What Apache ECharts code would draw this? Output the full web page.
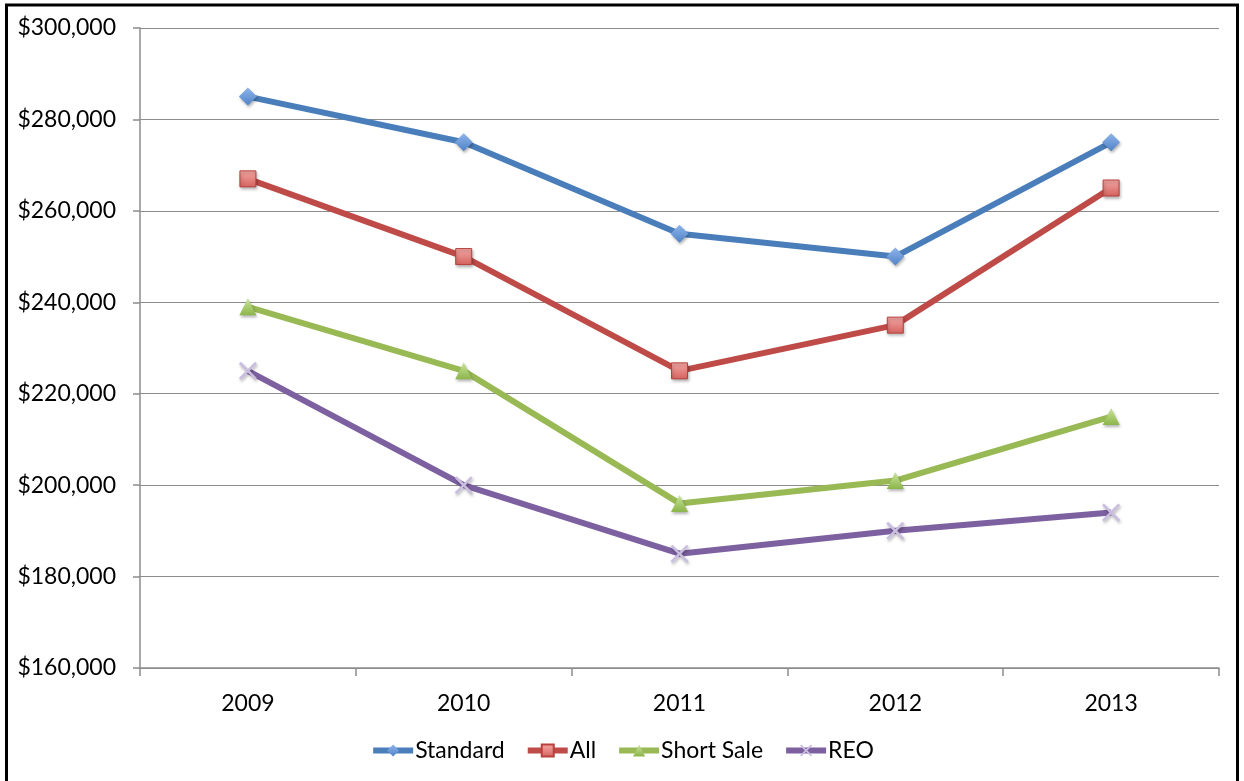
<!DOCTYPE html>
<html>
<head>
<meta charset="utf-8">
<script src="https://cdn.jsdelivr.net/npm/echarts@6/dist/echarts.min.js"></script>
<style>
  html, body { margin: 0; padding: 0; background: #fff; }
  #chart { width: 1244px; height: 781px; }
</style>
</head>
<body>
<div id="chart"></div>
<script>
// Median sale price by year and sale type
const years = ['2009', '2010', '2011', '2012', '2013'];
const standard = [285000, 275000, 255000, 250000, 275000];
const allSales = [267000, 250000, 225000, 235000, 265000];
const shortSale = [239000, 225000, 196000, 201000, 215000];
const reo = [225000, 200000, 185000, 190000, 194000];

const FONT = 'Lato, "Open Sans", sans-serif';
const crossPath = 'path://M0,1L1,0L5,4L9,0L10,1L6,5L10,9L9,10L5,6L1,10L0,9L4,5Z';

function grad(top, bottom) {
  return new echarts.graphic.LinearGradient(0, 0, 0, 1, [
    { offset: 0, color: top }, { offset: 1, color: bottom }
  ]);
}

function makeSeries(name, data, lineColor, symbol, size, fill, border) {
  return {
    name: name,
    type: 'line',
    data: data,
    symbol: symbol,
    symbolSize: size,
    showAllSymbol: true,
    lineStyle: { color: lineColor, width: 6 },
    itemStyle: {
      color: fill,
      borderColor: border,
      borderWidth: border ? 1 : 0,
      shadowColor: 'rgba(0,0,0,0.3)',
      shadowBlur: 3,
      shadowOffsetX: 1,
      shadowOffsetY: 2
    },
    emphasis: { disabled: true },
    z: 2
  };
}

const chart = echarts.init(document.getElementById('chart'), null, { renderer: 'canvas' });
chart.setOption({
  animation: false,
  backgroundColor: '#ffffff',
  grid: { left: 140, right: 25, top: 28, bottom: 113 },
  legend: {
    bottom: 14,
    left: 'center',
    itemWidth: 40,
    itemHeight: 15,
    itemGap: 20,
    lineStyle: { width: 6 },
    textStyle: { fontFamily: FONT, fontSize: 23, color: '#000', padding: [0, 0, 0, -3] },
    data: ['Standard', 'All', 'Short Sale', 'REO']
  },
  xAxis: {
    type: 'category',
    data: years,
    boundaryGap: true,
    axisLine: { lineStyle: { color: '#8c8c8c', width: 1.5 } },
    axisTick: { show: true, length: 8, lineStyle: { color: '#8c8c8c', width: 1.5 } },
    axisLabel: { fontFamily: FONT, fontSize: 23, color: '#000', margin: 24 },
    splitLine: { show: false }
  },
  yAxis: {
    type: 'value',
    min: 160000,
    max: 300000,
    interval: 20000,
    axisLine: { show: true, lineStyle: { color: '#8c8c8c', width: 1.5 } },
    axisTick: { show: true, length: 7, lineStyle: { color: '#8c8c8c', width: 1.5 } },
    axisLabel: {
      fontFamily: FONT, fontSize: 23, color: '#000', margin: 24,
      formatter: v => '$' + v.toLocaleString('en-US')
    },
    splitLine: { show: true, lineStyle: { color: '#8c8c8c', width: 1.2 } }
  },
  series: [
    makeSeries('Standard', standard, '#4a7ebb', 'diamond', 18, grad('#8fb4ea', '#4f83c8'), null),
    makeSeries('All', allSales, '#be4b48', 'rect', 16, grad('#f5a9a6', '#d4625e'), '#b8403d'),
    makeSeries('Short Sale', shortSale, '#98b954', 'triangle', 17, grad('#c8e59a', '#8cb54a'), null),
    makeSeries('REO', reo, '#7d60a0', crossPath, 18, '#c9bde0', null)
  ],
  graphic: [{
    type: 'rect',
    shape: { x: 6.5, y: 5, width: 1231, height: 790 },
    style: { fill: 'none', stroke: '#000', lineWidth: 3 },
    z: 100
  }]
});
</script>
</body>
</html>
